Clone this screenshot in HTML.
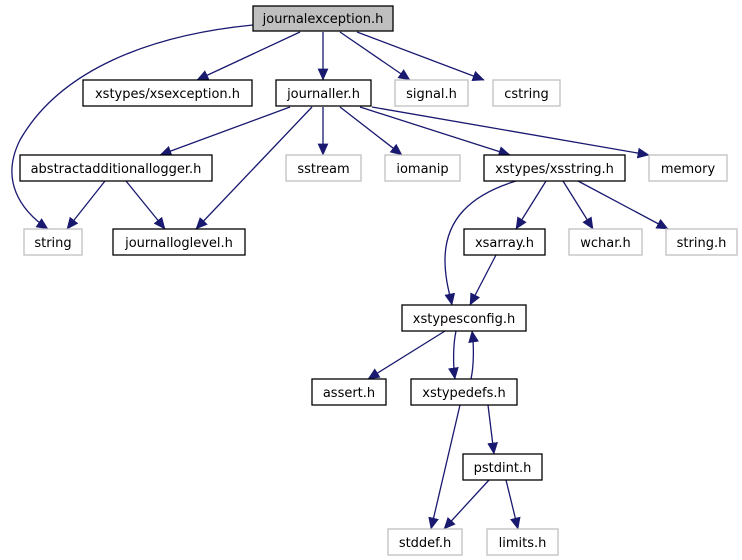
<!DOCTYPE html>
<html><head><style>body{margin:0;background:#fff}svg{display:block}text{font-family:"DejaVu Sans",sans-serif;font-size:13px}</style></head>
<body>
<svg width="742" height="560" xmlns="http://www.w3.org/2000/svg">
<defs><marker id="a" viewBox="0 0 10 10" refX="9.5" refY="5" markerWidth="12" markerHeight="12" markerUnits="userSpaceOnUse" orient="auto"><path d="M0,0.5 L10,5 L0,9.5 z" fill="#191970"/></marker></defs>
<g fill="none" stroke="#191970" stroke-width="1.3" marker-end="url(#a)">
<path d="M253,25 C150,35 60,70 20,140 C0,180 20,210 48,229"/>
<path d="M300,32 L197,80"/>
<path d="M323,32 L323,80"/>
<path d="M340,32 L410,80"/>
<path d="M357,32 L484,80"/>
<path d="M290,107 L160,155"/>
<path d="M312,107 L196,229"/>
<path d="M323,107 L323,155"/>
<path d="M340,107 L402,155"/>
<path d="M360,107 L510,155"/>
<path d="M372,107 L649,155"/>
<path d="M105,181 L67,229"/>
<path d="M126,181 L165,229"/>
<path d="M516,181 C470,195 445,220 445,260 C445,280 450,295 452,305"/>
<path d="M546,181 L516,229"/>
<path d="M563,181 L593,229"/>
<path d="M578,181 L668,229"/>
<path d="M496,255 L470,305"/>
<path d="M445,331 L368,379"/>
<path d="M456,331 C453,345 453,365 455,379"/>
<path d="M471,379 C474,365 474,345 472,331"/>
<path d="M488,405 L494,454"/>
<path d="M460,405 L431,529"/>
<path d="M489,480 L444,529"/>
<path d="M506,480 L518,529"/>
</g>
<g stroke-width="1.3">
<rect x="253" y="6" width="140" height="25" fill="#bfbfbf" stroke="#000"/>
<rect x="83" y="80" width="169" height="26" fill="#fff" stroke="#000"/>
<rect x="276" y="80" width="95" height="26" fill="#fff" stroke="#000"/>
<rect x="395" y="80" width="73" height="26" fill="#fff" stroke="#bfbfbf"/>
<rect x="493" y="80" width="67" height="26" fill="#fff" stroke="#bfbfbf"/>
<rect x="20" y="155" width="192" height="26" fill="#fff" stroke="#000"/>
<rect x="286" y="155" width="75" height="26" fill="#fff" stroke="#bfbfbf"/>
<rect x="385" y="155" width="75" height="26" fill="#fff" stroke="#bfbfbf"/>
<rect x="484" y="155" width="141" height="26" fill="#fff" stroke="#000"/>
<rect x="649" y="155" width="78" height="26" fill="#fff" stroke="#bfbfbf"/>
<rect x="24" y="229" width="58" height="26" fill="#fff" stroke="#bfbfbf"/>
<rect x="113" y="229" width="132" height="26" fill="#fff" stroke="#000"/>
<rect x="464" y="229" width="81" height="26" fill="#fff" stroke="#000"/>
<rect x="569" y="229" width="73" height="26" fill="#fff" stroke="#bfbfbf"/>
<rect x="666" y="229" width="71" height="26" fill="#fff" stroke="#bfbfbf"/>
<rect x="402" y="305" width="124" height="26" fill="#fff" stroke="#000"/>
<rect x="312" y="379" width="74" height="26" fill="#fff" stroke="#000"/>
<rect x="411" y="379" width="106" height="26" fill="#fff" stroke="#000"/>
<rect x="463" y="454" width="79" height="26" fill="#fff" stroke="#000"/>
<rect x="388" y="529" width="74" height="26" fill="#fff" stroke="#bfbfbf"/>
<rect x="487" y="529" width="71" height="26" fill="#fff" stroke="#bfbfbf"/>
</g>
<g text-anchor="middle" fill="#000">
<text x="323" y="23">journalexception.h</text>
<text x="167.5" y="98">xstypes/xsexception.h</text>
<text x="323.5" y="98">journaller.h</text>
<text x="431.5" y="98">signal.h</text>
<text x="526.5" y="98">cstring</text>
<text x="116" y="173">abstractadditionallogger.h</text>
<text x="323.5" y="173">sstream</text>
<text x="422.5" y="173">iomanip</text>
<text x="554.5" y="173">xstypes/xsstring.h</text>
<text x="688" y="173">memory</text>
<text x="53" y="247">string</text>
<text x="179" y="247">journalloglevel.h</text>
<text x="504.5" y="247">xsarray.h</text>
<text x="605.5" y="247">wchar.h</text>
<text x="701.5" y="247">string.h</text>
<text x="464" y="323">xstypesconfig.h</text>
<text x="349" y="397">assert.h</text>
<text x="464" y="397">xstypedefs.h</text>
<text x="502.5" y="472">pstdint.h</text>
<text x="425" y="547">stddef.h</text>
<text x="522.5" y="547">limits.h</text>
</g>
</svg>
</body></html>
